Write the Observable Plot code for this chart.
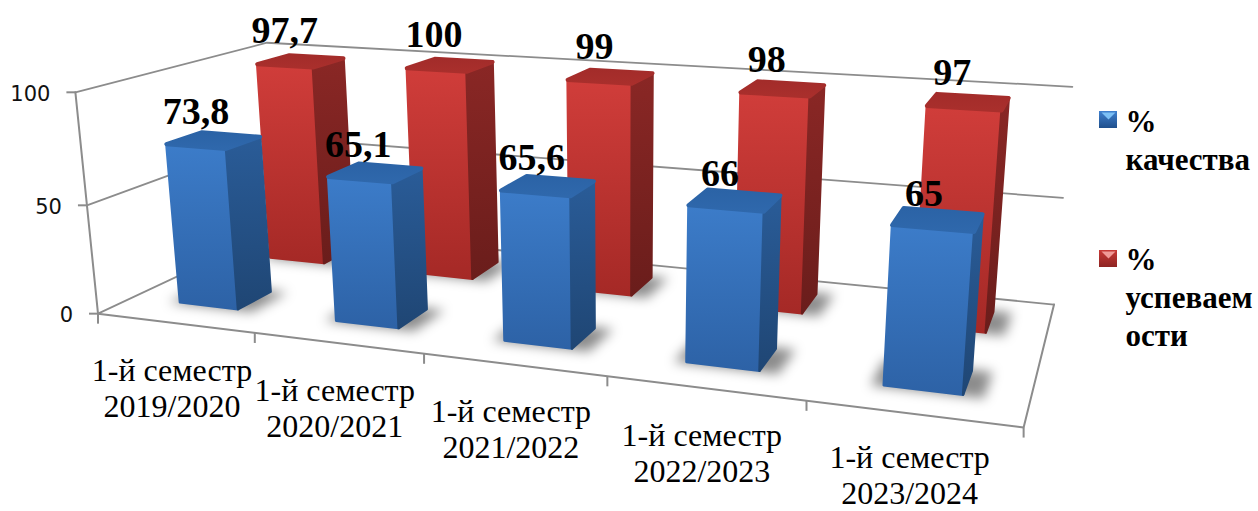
<!DOCTYPE html>
<html><head><meta charset="utf-8">
<style>html,body{margin:0;padding:0;background:#fff;overflow:hidden}</style>
<script src="https://cdn.jsdelivr.net/npm/d3@7"></script>
<script src="https://cdn.jsdelivr.net/npm/@observablehq/plot@0.6"></script>
</head><body><div id="chart"></div>
<script>
const categories = ["1-й семестр\n2019/2020","1-й семестр\n2020/2021","1-й семестр\n2021/2022","1-й семестр\n2022/2023","1-й семестр\n2023/2024"];
const quality = [73.8,65.1,65.6,66,65];
const passing = [97.7,100,99,98,97];
const qualityLabels = ["73,8","65,1","65,6","66","65"];
const passingLabels = ["97,7","100","99","98","97"];
const valueTicks = [0,50,100];

// Camera: calibrated from the corners of the 3D box [u, v, w, px, py]
const calib = [[0,0,0,97,313],[1,0,0,1023,428],[0,1,0,280,229],[1,1,0,1053,303],
  [0,0,1,77,92],[0,1,1,265,42],[1,1,1,1072,87],[0,0,.5,85,204],[1,1,.5,1063,197]];
function solve(A,b){const n=b.length,M=A.map((r,i)=>[...r,b[i]]);
  for(let c=0;c<n;c++){let p=c;for(let r=c+1;r<n;r++)if(Math.abs(M[r][c])>Math.abs(M[p][c]))p=r;
    [M[c],M[p]]=[M[p],M[c]];
    for(let r=0;r<n;r++)if(r!==c){const f=M[r][c]/M[c][c];for(let k=c;k<=n;k++)M[r][k]-=f*M[c][k];}}
  return M.map((r,i)=>r[n]/r[i]);}
const rows=[],rhs=[];
for(const [u,v,w,X,Y] of calib){
  rows.push([1,u,v,w,0,0,0,0,-X*u,-X*v,-X*w]);rhs.push(X);
  rows.push([0,0,0,0,1,u,v,w,-Y*u,-Y*v,-Y*w]);rhs.push(Y);}
const N=11,ATA=d3.range(N).map(i=>d3.range(N).map(j=>d3.sum(rows,r=>r[i]*r[j]))),
  ATb=d3.range(N).map(i=>d3.sum(rows,(r,k)=>r[i]*rhs[k]));
const P=solve(ATA,ATb);
function proj(u,v,w){const d=1+P[8]*u+P[9]*v+P[10]*w;
  return {x:(P[0]+P[1]*u+P[2]*v+P[3]*w)/d,y:(P[4]+P[5]*u+P[6]*v+P[7]*w)/d};}

const halfU=0.038;
const rowsDepth={q:[0.17,0.35],p:[0.675,0.87]};
const center=i=>(i+.5)/categories.length;
function bar(i,val,key){const u0=center(i)-halfU,u1=center(i)+halfU,[v0,v1]=rowsDepth[key],w=val/100;
  const poly=(name,pts)=>pts.map(([u,v,h])=>({id:`${key}${i}${name}`,...proj(u,v,h)}));
  return {
    front:poly("f",[[u0,v0,0],[u1,v0,0],[u1,v0,w],[u0,v0,w]]),
    side:poly("s",[[u1,v0,0],[u1,v1,0],[u1,v1,w],[u1,v0,w]]),
    top:poly("t",[[u0,v0,w],[u1,v0,w],[u1,v1,w],[u0,v1,w]]),
    shadow:poly("h",[[u0-.012,v0-.01,0],[u1+.02,v0-.01,0],[u1+.02,v1+.01,0],[u0-.012,v1+.01,0]])
  };}
const qBars=quality.map((d,i)=>bar(i,d,"q")), pBars=passing.map((d,i)=>bar(i,d,"p"));
const faces=(bars,k)=>bars.flatMap(b=>b[k]);

const face=(data,fill,strokeWidth=2.5)=>Plot.line(data,{x:"x",y:"y",z:"id",curve:"linear-closed",fill,stroke:fill,strokeWidth,strokeLinejoin:"round"});
const line=(pts,o={})=>Plot.line(pts,{x:"x",y:"y",stroke:"#8c8c8c",strokeWidth:2,...o});
const shadow=data=>Plot.line(data,{x:"x",y:"y",z:"id",curve:"linear-closed",fill:"#000",fillOpacity:.45,imageFilter:"blur(6px)"});

const defs=()=>{const s=d3.create("svg:defs");
  const g=(id,a,b)=>{const l=s.append("linearGradient").attr("id",id).attr("x1",0).attr("y1",0).attr("x2",0).attr("y2",1);
    l.append("stop").attr("offset",0).attr("stop-color",a);l.append("stop").attr("offset",1).attr("stop-color",b);};
  g("qf","#3c7cc9","#2d62a6");g("qs","#2a5c98","#1f4674");g("qt","#2b63a6","#2f68ac");
  g("pf","#d03d3a","#a52926");g("ps","#8a2725","#6a1d1b");g("pt","#a32c2a","#a92f2c");
  g("lq","#3f80cf","#1f4f8c");g("lp","#c83a36","#8e2422");
  return s.node();};

const wallTicks=valueTicks.map(t=>({t,a:proj(0,0,t/100),b:proj(0,1,t/100),c:proj(1,1,t/100)}));
const floorFront=[proj(0,0,0),proj(1,0,0),proj(1,1,0)];
const leftEdge=[proj(0,0,1),proj(0,0,0)];
const tickU=d3.range(categories.length+1).map(i=>i/categories.length);

const legendItems=[
 {label:"%\nкачества",x:1125,y:138,sx:1099,sy:111,g:"url(#lq)",c:"#7cc0f5"},
 {label:"%\nуспеваем\nости",x:1125,y:295,sx:1099,sy:250,g:"url(#lp)",c:"#f09a96"}];
const legendTriangles=legendItems.flatMap((d,k)=>[[2,1],[16,1],[9,8]].map(([a,b])=>({id:k,x:d.sx+a,y:d.sy+b,c:d.c})));

const valueLabel=(labels,vals,key,shift)=>Plot.text(labels,{
  x:(d,i)=>proj(center(i)-shift*i,rowsDepth[key][0],vals[i]/100).x,
  y:(d,i)=>proj(center(i),rowsDepth[key][0],vals[i]/100).y,
  text:d=>d,dy:-35,fontFamily:"Liberation Serif",fontWeight:"bold",fontSize:38,fill:"#000"});

const chart=Plot.plot({
  width:1258,height:511,margin:0,
  x:{domain:[0,1258],range:[0,1258],axis:null},
  y:{domain:[0,511],range:[0,511],axis:null},
  marks:[
    defs,
    // gridlines
    ...wallTicks.map(d=>line([d.a,d.b,d.c],{strokeWidth:1.8})),
    line(leftEdge),
    line(floorFront),
    // axis ticks
    Plot.link(valueTicks,{x1:t=>proj(0,0,t/100).x-9,y1:t=>proj(0,0,t/100).y,x2:t=>proj(0,0,t/100).x,y2:t=>proj(0,0,t/100).y,stroke:"#8c8c8c",strokeWidth:2}),
    Plot.link(tickU,{x1:u=>proj(u,0,0).x,y1:u=>proj(u,0,0).y,x2:u=>proj(u,0,0).x,y2:u=>proj(u,0,0).y+10,stroke:"#8c8c8c",strokeWidth:2}),
    Plot.text(valueTicks,{x:t=>proj(0,0,t/100).x,y:t=>proj(0,0,t/100).y,text:t=>`${t}`,dx:-25,dy:2,textAnchor:"end",fontFamily:"DejaVu Sans",fontSize:21,fill:"#111"}),
    // category labels
    Plot.text(categories,{x:(d,i)=>proj(center(i),0,0).x,y:(d,i)=>Math.min(proj(center(i),0,0).y,410),text:d=>d,dx:-3,dy:64,lineHeight:1.13,fontFamily:"Liberation Serif",fontSize:32,fill:"#000"}),
    // back row
    shadow(faces(pBars,"shadow")),
    face(faces(pBars,"front"),"url(#pf)"),face(faces(pBars,"side"),"url(#ps)"),face(faces(pBars,"top"),"url(#pt)",4),
    // front row
    shadow(faces(qBars,"shadow")),
    face(faces(qBars,"front"),"url(#qf)"),face(faces(qBars,"side"),"url(#qs)"),face(faces(qBars,"top"),"url(#qt)",4),
    // value labels
    valueLabel(passingLabels,passing,"p",.003),
    valueLabel(qualityLabels,quality,"q",.002),
    // legend
    Plot.rect(legendItems,{x1:"sx",x2:d=>d.sx+18,y1:"sy",y2:d=>d.sy+17,fill:"g"}),
    Plot.line(legendTriangles,{x:"x",y:"y",z:"id",curve:"linear-closed",fill:"c"}),
    Plot.text(legendItems,{x:"x",y:"y",text:"label",textAnchor:"start",lineHeight:1.23,fontFamily:"Liberation Serif",fontWeight:"bold",fontSize:31,fill:"#000"})
  ]
});
document.getElementById("chart").append(chart);
</script></body></html>
